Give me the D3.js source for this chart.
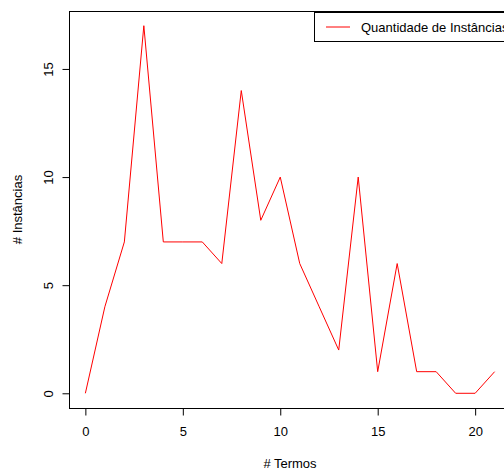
<!DOCTYPE html>
<html>
<head>
<meta charset="utf-8">
<script src="https://cdn.jsdelivr.net/npm/d3@7"></script>
<style>
  html, body { margin: 0; padding: 0; background: #fff; overflow: hidden; }
  svg { display: block; font-family: "Liberation Sans", Arial, sans-serif; }
</style>
</head>
<body>
<script>
// Number of terms per query and how many instances have that count
const termos = [0,1,2,3,4,5,6,7,8,9,10,11,12,13,14,15,16,17,18,19,20,21];
const instancias = [0,4,7,17,7,7,7,6,14,8,10,6,4,2,10,1,6,1,1,0,0,1];
const xTicks = [0,5,10,15,20];
const yTicks = [0,5,10,15];
const serieNome = "Quantidade de Instâncias";

const W = 504, H = 470;
const FS = 13;
const plot = { left: 69, right: 511, top: 11, bottom: 408 };

const svg = d3.select("body").append("svg")
  .attr("width", W).attr("height", H);

// R-style 4% padding on both axes
const xExt = d3.extent(termos), yExt = [0, d3.max(instancias)];
const xPad = (xExt[1] - xExt[0]) * 0.04, yPad = (yExt[1] - yExt[0]) * 0.04;
const x = d3.scaleLinear().domain([xExt[0] - xPad, xExt[1] + xPad]).range([plot.left, plot.right]);
const y = d3.scaleLinear().domain([yExt[0] - yPad, yExt[1] + yPad]).range([plot.bottom, plot.top]);

// series line
svg.append("path")
  .datum(termos.map((t, i) => [t, instancias[i]]))
  .attr("fill", "none")
  .attr("stroke", "#ff0000")
  .attr("stroke-width", 1)
  .attr("d", d3.line().x(d => x(d[0])).y(d => y(d[1])));

// plot frame
svg.append("rect")
  .attr("x", plot.left + 0.5).attr("y", plot.top + 0.5)
  .attr("width", plot.right - plot.left).attr("height", plot.bottom - plot.top)
  .attr("fill", "none").attr("stroke", "#000").attr("stroke-width", 1);

// x axis
const xAxis = svg.append("g")
  .attr("transform", `translate(0,${plot.bottom + 0.5})`)
  .call(d3.axisBottom(x).tickValues(xTicks).tickSize(7).tickPadding(11).tickSizeOuter(0));
xAxis.select(".domain").remove();
xAxis.append("line")
  .attr("x1", x(xTicks[0])).attr("x2", x(xTicks[xTicks.length - 1]))
  .attr("stroke", "#000");
xAxis.selectAll("text").attr("font-size", FS).attr("fill", "#000")
  .attr("font-family", "Liberation Sans, Arial, sans-serif");
xAxis.selectAll(".tick line").attr("stroke", "#000");

// y axis with rotated labels
const yAxis = svg.append("g")
  .attr("transform", `translate(${plot.left + 0.5},0)`)
  .call(d3.axisLeft(y).tickValues(yTicks).tickSize(7).tickSizeOuter(0));
yAxis.select(".domain").remove();
yAxis.selectAll(".tick line").attr("stroke", "#000");
yAxis.selectAll(".tick text")
  .attr("font-size", FS).attr("fill", "#000")
  .attr("font-family", "Liberation Sans, Arial, sans-serif")
  .attr("x", null).attr("dy", null)
  .attr("text-anchor", "middle")
  .attr("transform", "translate(-16.5,0) rotate(-90)");

// axis titles
svg.append("text")
  .attr("x", (plot.left + plot.right) / 2).attr("y", 467.5)
  .attr("text-anchor", "middle").attr("font-size", FS)
  .text("# Termos");
svg.append("text")
  .attr("transform", `translate(21.5,${(plot.top + plot.bottom) / 2}) rotate(-90)`)
  .attr("text-anchor", "middle").attr("font-size", FS)
  .text("# Instâncias");

// legend
const leg = svg.append("g");
leg.append("rect")
  .attr("x", 314.5).attr("y", 12.5).attr("width", 196).attr("height", 29)
  .attr("fill", "#fff").attr("stroke", "#000");
leg.append("line")
  .attr("x1", 326).attr("x2", 350).attr("y1", 27).attr("y2", 27)
  .attr("stroke", "#ff0000");
leg.append("text")
  .attr("x", 361).attr("y", 31.5).attr("font-size", FS)
  .text(serieNome);
</script>
</body>
</html>
